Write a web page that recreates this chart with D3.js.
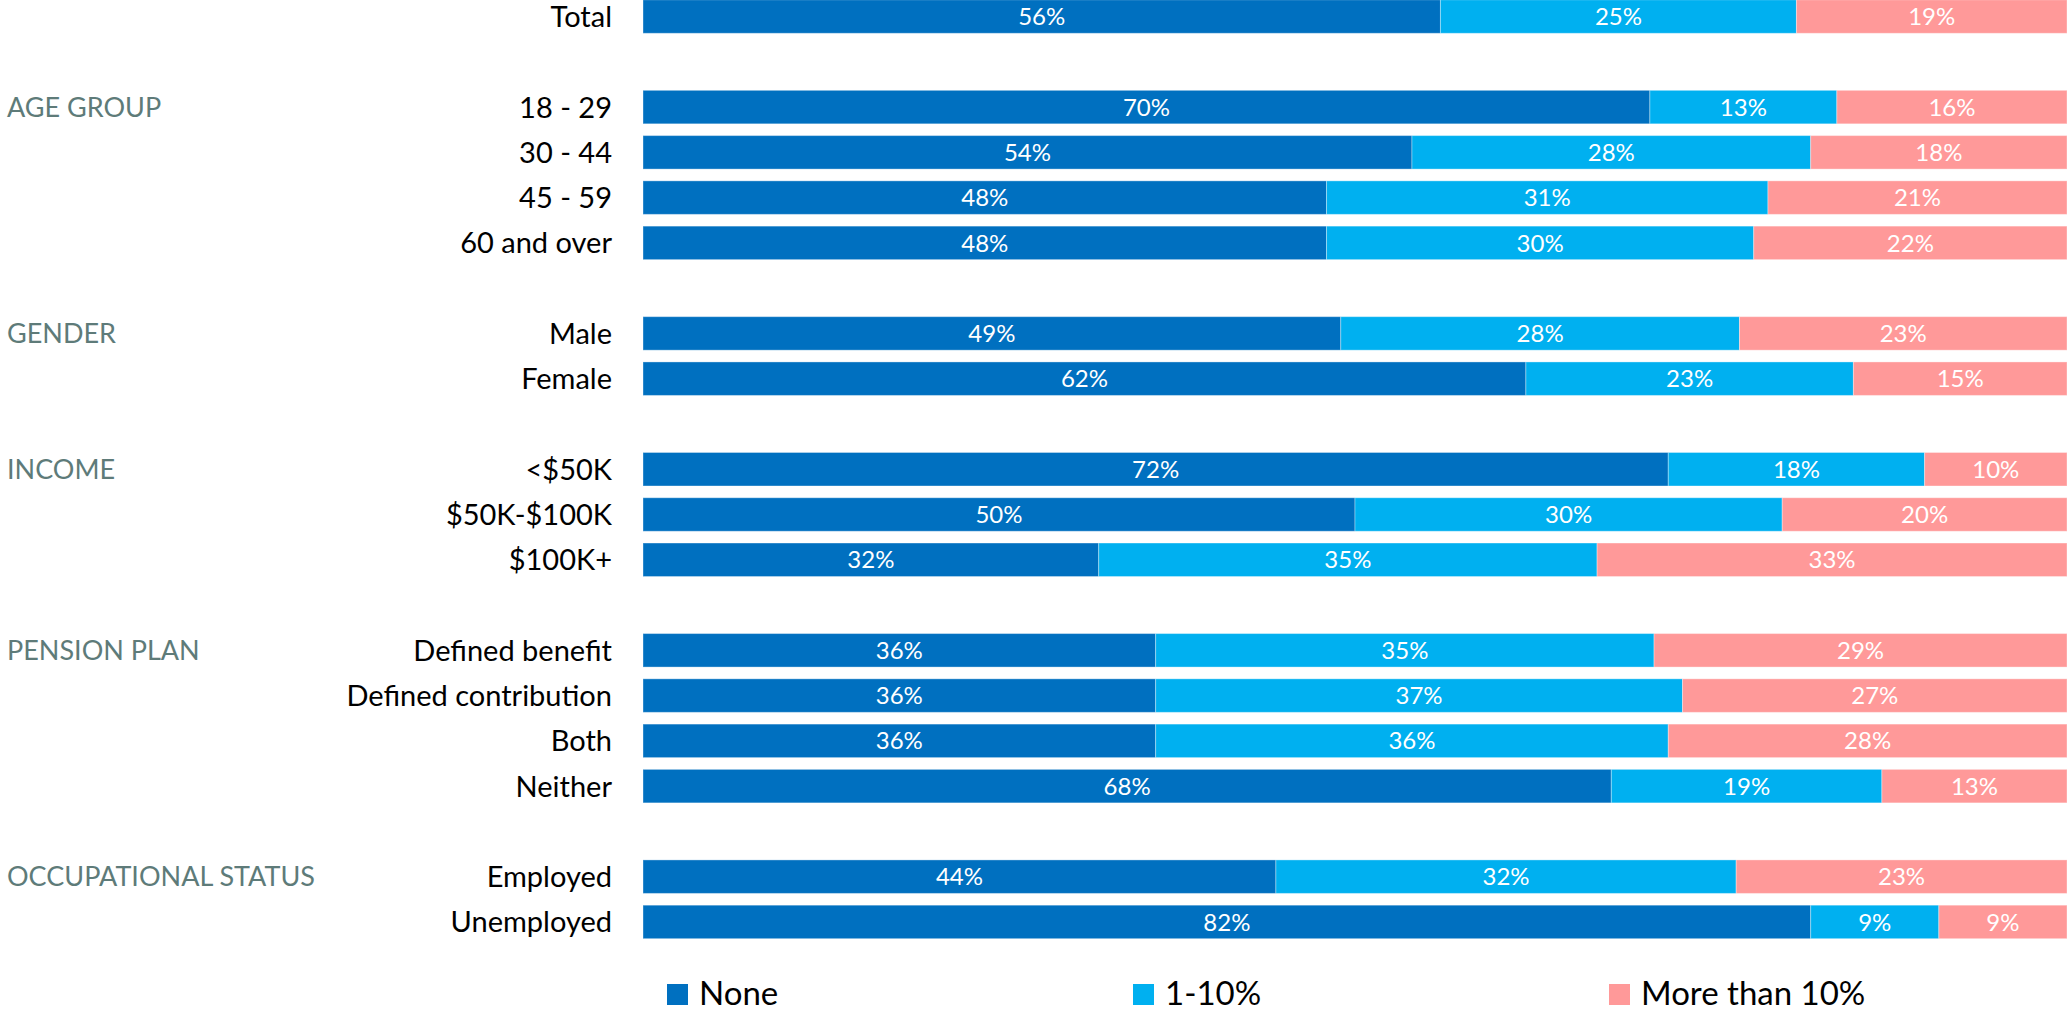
<!DOCTYPE html>
<html>
<head>
<meta charset="utf-8">
<script src="https://cdn.jsdelivr.net/npm/d3@7"></script>
<style>
  html, body { margin: 0; padding: 0; background: #fff; }
  svg { display: block; font-family: Lato, "Open Sans", sans-serif; }
</style>
</head>
<body>
<svg id="chart" width="2067" height="1012"></svg>
<script>
// Share of respondents by segment, split into three answer bands
const groups = ["", "AGE GROUP", "GENDER", "INCOME", "PENSION PLAN", "OCCUPATIONAL STATUS"];
const categories = ["Total", "18 - 29", "30 - 44", "45 - 59", "60 and over", "Male", "Female",
  "<$50K", "$50K-$100K", "$100K+", "Defined benefit", "Defined contribution", "Both", "Neither",
  "Employed", "Unemployed"];
const categoryGroup = [0, 1, 1, 1, 1, 2, 2, 3, 3, 3, 4, 4, 4, 4, 5, 5];
const seriesNames = ["None", "1-10%", "More than 10%"];
const noneValues = [56, 70, 54, 48, 48, 49, 62, 72, 50, 32, 36, 36, 36, 68, 44, 82];
const lowValues = [25, 13, 28, 31, 30, 28, 23, 18, 30, 35, 35, 37, 36, 19, 32, 9];
const highValues = [19, 16, 18, 21, 22, 23, 15, 10, 20, 33, 29, 27, 28, 13, 23, 9];

const colors = ["#0070C0", "#00B0F0", "#FF9999"];
const keys = ["none", "low", "high"];

const rows = categories.map((c, i) => ({
  category: c,
  group: categoryGroup[i],
  slot: i + categoryGroup[i],      // one empty row between groups
  none: noneValues[i],
  low: lowValues[i],
  high: highValues[i]
}));

const svg = d3.select("#chart");
const left = 643, right = 2067;
const nSlots = d3.max(rows, d => d.slot) + 1;

const x = d3.scaleLinear().domain([0, 1]).range([left, right]);
const y = d3.scaleBand()
  .domain(d3.range(nSlots))
  .range([-6.1, -6.1 + nSlots * 45.27])
  .paddingInner(0.26)
  .paddingOuter(0.13);

// each row normalised to its own total
const stacked = d3.stack().keys(keys).offset(d3.stackOffsetExpand)(rows);

const layer = svg.append("g").selectAll("g")
  .data(stacked)
  .join("g")
  .attr("fill", (d, i) => colors[i]);

layer.selectAll("rect")
  .data(d => d)
  .join("rect")
  .attr("x", d => x(d[0]))
  .attr("y", d => y(d.data.slot))
  .attr("width", d => x(d[1]) - x(d[0]))
  .attr("height", y.bandwidth())
  .attr("stroke", "#ffffff")
  .attr("stroke-opacity", 0.35)
  .attr("stroke-width", 1);

// value labels inside segments
svg.append("g").selectAll("g")
  .data(stacked)
  .join("g")
  .selectAll("text")
  .data(d => d.map(s => ({ s, key: d.key })))
  .join("text")
  .attr("x", d => (x(d.s[0]) + x(d.s[1])) / 2)
  .attr("y", d => y(d.s.data.slot) + y.bandwidth() / 2)
  .attr("dy", "0.36em")
  .attr("text-anchor", "middle")
  .attr("fill", "#ffffff")
  .attr("font-size", 24)
  .text(d => d.s.data[d.key] + "%");

// category labels
svg.append("g").selectAll("text")
  .data(rows)
  .join("text")
  .attr("x", 612)
  .attr("y", d => y(d.slot) + y.bandwidth() / 2)
  .attr("dy", "0.36em")
  .attr("text-anchor", "end")
  .attr("fill", "#000000")
  .attr("font-size", 29)
  .text(d => d.category);

// group headings, aligned with the first row of each group
const firstOfGroup = groups.map((g, gi) => ({ name: g, row: rows.find(r => r.group === gi) }))
  .filter(d => d.name !== "");
svg.append("g").selectAll("text")
  .data(firstOfGroup)
  .join("text")
  .attr("x", 7)
  .attr("y", d => y(d.row.slot) + y.bandwidth() / 2)
  .attr("dy", "0.36em")
  .attr("fill", "#5E7B79")
  .attr("font-size", 27)
  .text(d => d.name);

// legend
const legendX = [667, 1133, 1609];
const legend = svg.append("g").selectAll("g")
  .data(seriesNames)
  .join("g")
  .attr("transform", (d, i) => `translate(${legendX[i]},984)`);
legend.append("rect")
  .attr("width", 21)
  .attr("height", 21)
  .attr("fill", (d, i) => colors[i]);
legend.append("text")
  .attr("x", 32)
  .attr("y", 21)
  .attr("fill", "#000000")
  .attr("font-size", 33)
  .text(d => d);
</script>
</body>
</html>
